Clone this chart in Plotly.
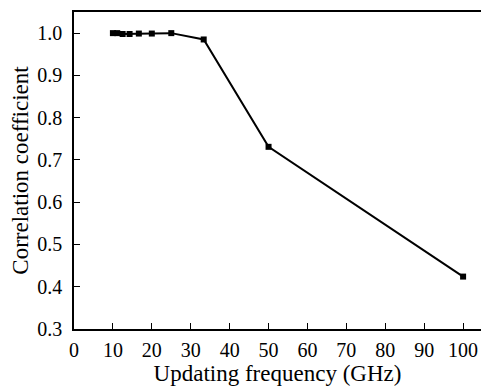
import plotly.graph_objects as go

freq = [100/10, 100/9, 100/8, 100/7, 100/6, 100/5, 100/4, 100/3, 100/2, 100/1]
corr = [1.0, 1.0, 0.998, 0.998, 0.999, 0.999, 1.0, 0.985, 0.731, 0.424]
x_ticks = [0, 10, 20, 30, 40, 50, 60, 70, 80, 90, 100]
y_ticks = [0.3, 0.4, 0.5, 0.6, 0.7, 0.8, 0.9, 1.0]

fig = go.Figure(go.Scatter(
    x=freq, y=corr, mode="lines+markers",
    line=dict(color="black", width=2),
    marker=dict(symbol="square", size=6, color="black"),
))

font = dict(family="Liberation Serif", size=19, color="black")
tickfont = dict(family="Liberation Serif", size=20, color="black")
fig.update_layout(
    width=481, height=390,
    margin=dict(l=74, r=0, t=12, b=61),
    plot_bgcolor="white", paper_bgcolor="white",
    showlegend=False, font=font,
)
fig.update_xaxes(
    range=[0, 104.6], tickvals=x_ticks, ticktext=[str(v) for v in x_ticks],
    ticks="inside", ticklen=6, tickwidth=1.2, tickcolor="black", tickfont=tickfont,
    showline=True, linecolor="black", linewidth=1.5, mirror=True,
    showgrid=False, zeroline=False, ticklabelstandoff=2,
    title=dict(text="Updating frequency (GHz)", standoff=4),
)
fig.update_yaxes(
    range=[0.3, 1.05], tickvals=y_ticks, ticktext=[f"{v:.1f}" for v in y_ticks],
    ticks="inside", ticklen=6, tickwidth=1.2, tickcolor="black", tickfont=tickfont,
    showline=True, linecolor="black", linewidth=1.5,
    showgrid=False, zeroline=False, ticklabelstandoff=6,
    title=dict(text="Correlation coefficient", standoff=2),
)
fig.write_html("out.html")
